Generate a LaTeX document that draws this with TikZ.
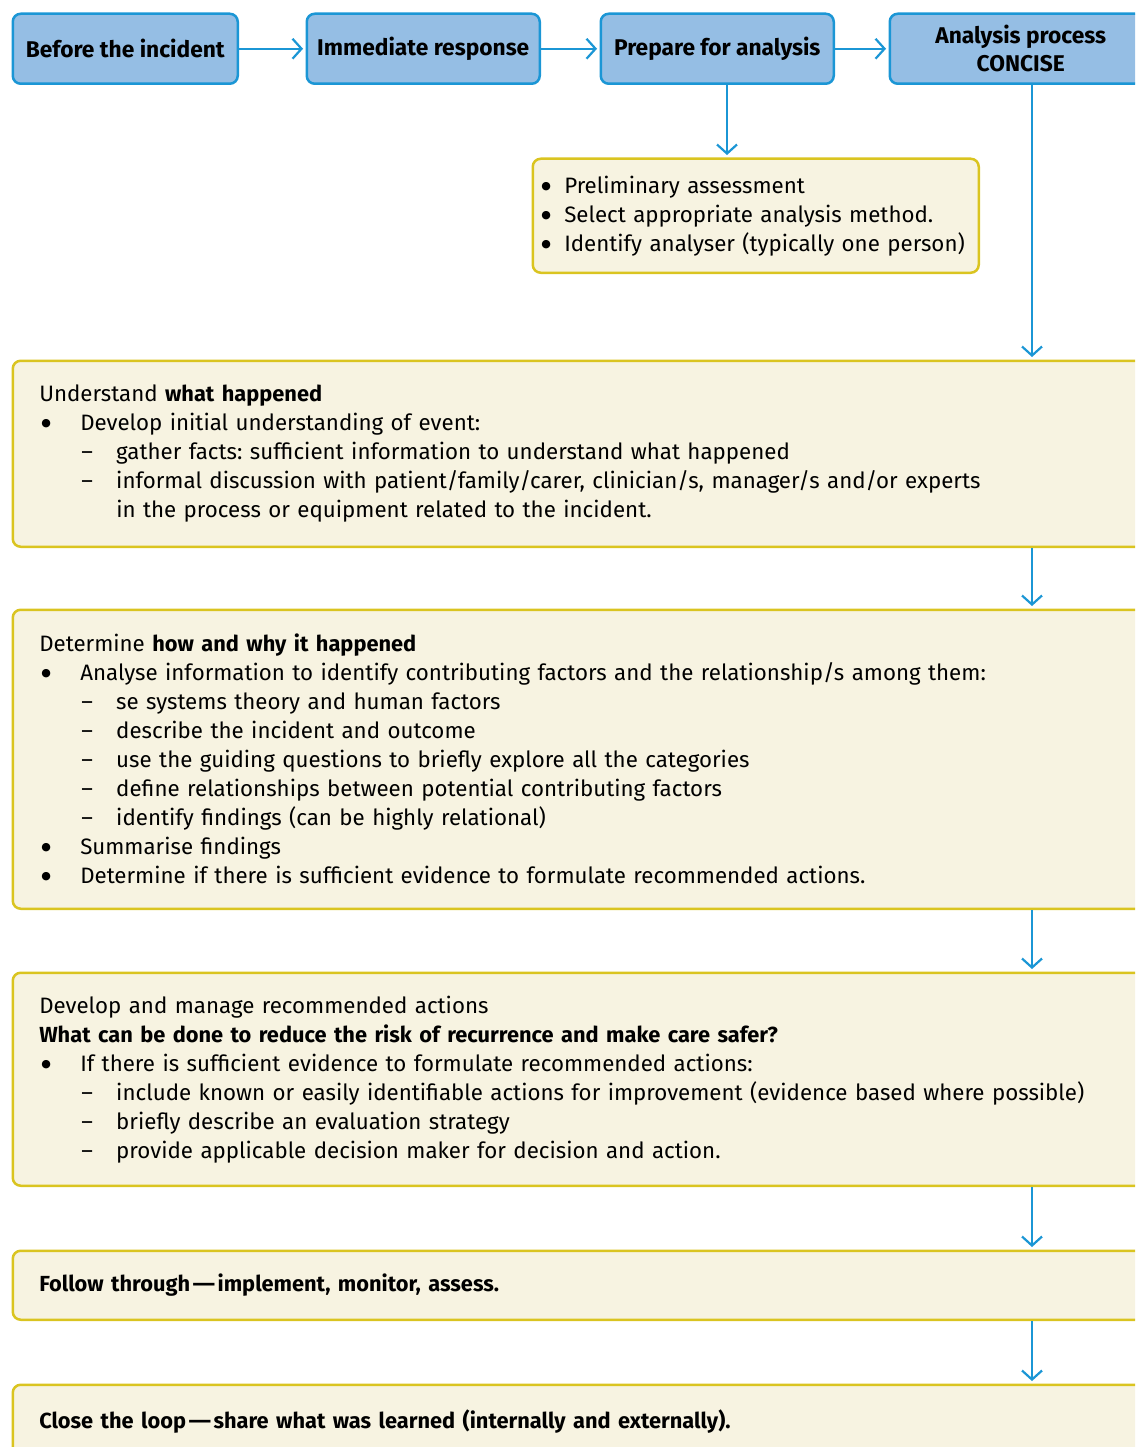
\documentclass[tikz,border=0pt]{standalone}
\usepackage{fontspec}
\setmainfont{Fira Sans}[BoldFeatures={Scale=0.978}]
\newfontfamily\symfont{DejaVu Sans}
\usetikzlibrary{arrows.meta}

\definecolor{stepblue}{RGB}{149,190,228}
\definecolor{edgeblue}{RGB}{27,150,213}
\definecolor{notefill}{RGB}{247,243,225}
\definecolor{noteedge}{RGB}{218,196,32}

% list helpers: bullet item, dash sub-item, continuation of a sub-item
\newcommand{\bigdot}{\raisebox{4pt}{\symfont\fontsize{11}{11}\selectfont ●}}
\newcommand{\pbul}{\makebox[41pt][l]{\hspace{2pt}\bigdot}}
\newcommand{\pdash}{\hspace*{41pt}\makebox[36pt][l]{\hspace{1pt}–}}
\newcommand{\pcont}{\hspace*{77pt}}
\newcommand{\sbul}{\makebox[23pt][l]{\hspace{0pt}\bigdot}}
\newcommand{\wdash}{\hspace{2.5pt}\scalebox{1.3}[1]{—}\hspace{2.5pt}}

\frenchspacing

\begin{document}
\begin{tikzpicture}[x=1pt,y=-1pt,
  stage/.style={draw=edgeblue, fill=stepblue, line width=2.5pt, rounded corners=8pt,
    inner sep=0pt, anchor=north west, align=center,
    font=\fontsize{23.26}{28}\selectfont\bfseries},
  note/.style={draw=noteedge, fill=notefill, line width=2.5pt, rounded corners=8pt,
    anchor=north west, align=left, inner ysep=0pt, inner xsep=26.5pt,
    minimum width=1160pt, text width=1107pt,
    font=\fontsize{22.3}{29}\selectfont},
  flow/.style={draw=edgeblue, line width=2.2pt, shorten >=2.5pt,
    -{Straight Barb[length=9pt,width=20pt,line width=2.2pt]}}]

\path[use as bounding box] (0,0) rectangle (1135,1447);
\clip (0,0) rectangle (1135,1447);

% top row of stages
\node[stage, minimum width=225pt, minimum height=70pt] (s1) at (11.5,12.5) {Before the incident};
\node[stage, minimum width=233pt, minimum height=70pt] (s2) at (305.5,12.5) {Immediate response};
\node[stage, minimum width=233pt, minimum height=70pt] (s3) at (599.5,12.5) {Prepare for analysis};
\node[stage, minimum width=262pt, minimum height=70pt] (s4) at (888.5,12.5) {Analysis process\\CONCISE};

% preparation checklist
\node[note, minimum width=446pt, text width=429pt, inner xsep=8.5pt, minimum height=114pt]
  (prep) at (531.5,157.5)
  {\sbul Preliminary assessment\\
   \sbul Select appropriate analysis method.\\
   \sbul Identify analyser (typically one person)};

% analysis steps
\node[note, minimum height=186pt] (nA) at (11.5,359.5)
  {Understand \textbf{what happened}\\
   \pbul Develop initial understanding of event:\\
   \pdash gather facts: sufficient information to understand what happened\\
   \pdash informal discussion with patient/family/carer, clinician/s, manager/s and/or experts\\
   \pcont in the process or equipment related to the incident.};

\node[note, minimum height=299pt] (nB) at (11.5,608.5)
  {Determine \textbf{how and why it happened}\\
   \pbul Analyse information to identify contributing factors and the relationship/s among them:\\
   \pdash se systems theory and human factors\\
   \pdash describe the incident and outcome\\
   \pdash use the guiding questions to briefly explore all the categories\\
   \pdash define relationships between potential contributing factors\\
   \pdash identify findings (can be highly relational)\\
   \pbul Summarise findings\\
   \pbul Determine if there is sufficient evidence to formulate recommended actions.};

\node[note, minimum height=213pt] (nC) at (11.5,971.5)
  {Develop and manage recommended actions\\
   \textbf{What can be done to reduce the risk of recurrence and make care safer?}\\
   \pbul If there is sufficient evidence to formulate recommended actions:\\
   \pdash include known or easily identifiable actions for improvement (evidence based where possible)\\
   \pdash briefly describe an evaluation strategy\\
   \pdash provide applicable decision maker for decision and action.};

\node[note, minimum height=69pt] (nD) at (11.5,1249.5)
  {\textbf{Follow through\wdash implement, monitor, assess.}};

\node[note, minimum height=73pt] (nE) at (11.5,1383.5)
  {\textbf{Close the loop\wdash share what was learned (internally and externally).}};

% connector lines
\coordinate (drop) at (727,0);
\coordinate (spine) at (1032,0);

\draw[flow] (s1) -- (s2);
\draw[flow] (s2) -- (s3);
\draw[flow] (s3) -- (s4);
\draw[flow] (s3.south -| drop) -- (prep.north -| drop);
\draw[flow] (s4.south -| spine) -- (nA.north -| spine);
\draw[flow] (nA.south -| spine) -- (nB.north -| spine);
\draw[flow] (nB.south -| spine) -- (nC.north -| spine);
\draw[flow] (nC.south -| spine) -- (nD.north -| spine);
\draw[flow] (nD.south -| spine) -- (nE.north -| spine);
\end{tikzpicture}
\end{document}
